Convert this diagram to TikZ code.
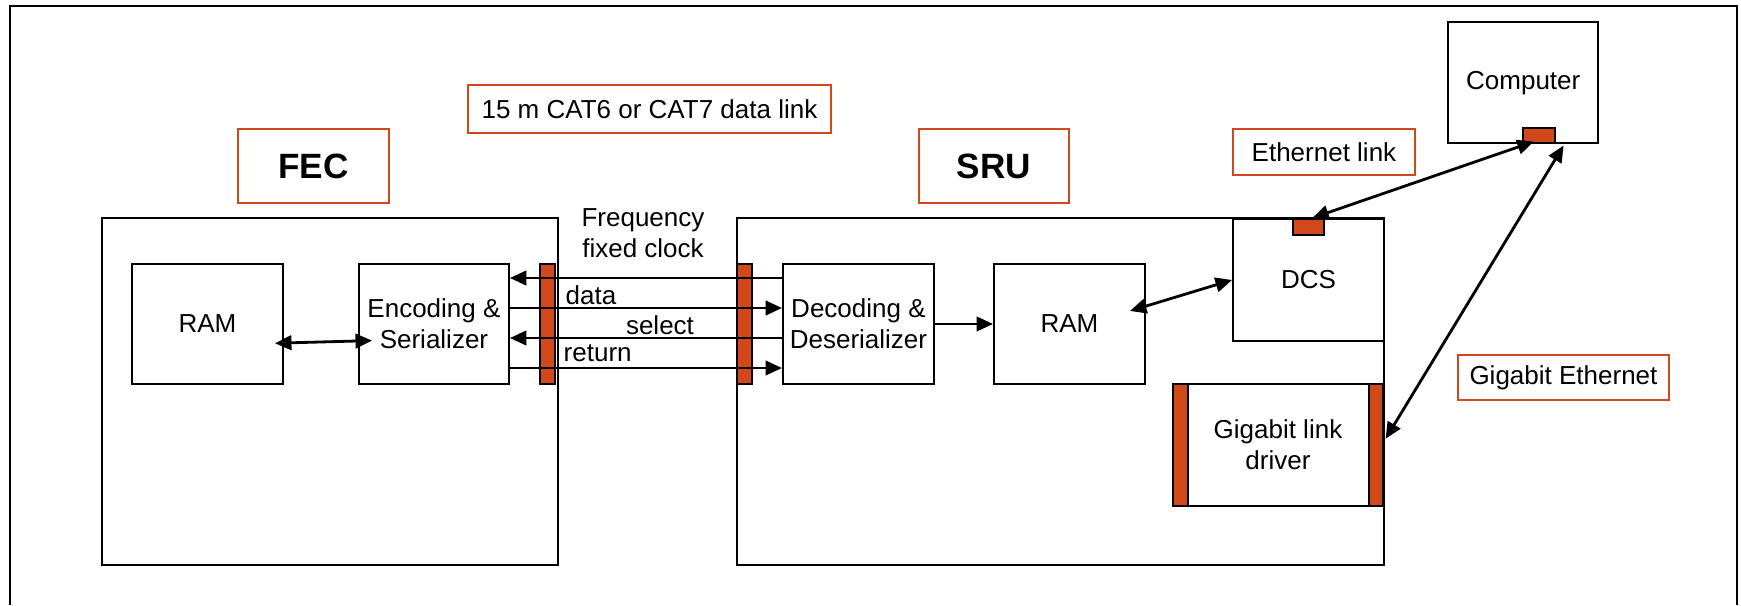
\documentclass[tikz,border=0pt]{standalone}
\usepackage{fontspec}
\setmainfont{Liberation Sans}
\usetikzlibrary{arrows.meta,calc}
\definecolor{rust}{RGB}{209,73,26}
\begin{document}
\begin{tikzpicture}[x=0.1mm,y=-0.1mm,
  >={Triangle[length=1.65mm,width=1.45mm]},
  txt/.style={font=\fontsize{7.4}{8.8}\selectfont},
  wh/.style 2 args={minimum width=#1*0.1mm, minimum height=#2*0.1mm},
  box/.style={draw, line width=0.55pt, inner sep=0pt, align=center, anchor=north west, txt},
  tag/.style={draw=rust, line width=0.55pt, inner sep=0pt, align=center, anchor=north west, txt},
  title/.style={tag, font=\fontsize{10}{12}\selectfont\bfseries},
  port/.style={draw, fill=rust, line width=0.45pt, inner sep=0pt, anchor=north west},
  lbl/.style={inner sep=0pt, align=center, txt},
  link/.style={line width=0.8pt, ->},
  dlink/.style={line width=0.8pt, <->},
]
\useasboundingbox (0,0) rectangle (1741,605);

% outer frame (open at the bottom)
\draw[line width=0.7pt] (10,605) -- (10,6) -- (1737,6) -- (1737,605);

% crates
\node[box, wh={456}{347}] (fec) at (101,217) {};
\node[box, wh={647}{347}] (sru) at (736,217) {};
\node[title, wh={151}{74}] (feclbl) at (237,128) {FEC};
\node[title, wh={150}{74}] (srulbl) at (918,128) {SRU};
\node[tag, wh={363}{48}] (cat) at (467,84) {15 m CAT6 or CAT7 data link};

% FEC side
\node[box, wh={151}{120}] (ramf) at (131,263) {RAM};
\node[box, wh={150}{120}] (enc) at (358,263) {Encoding \&\\Serializer};
\node[port, wh={15}{120}] (barl) at (539,263) {};

% SRU side
\node[port, wh={15}{120}] (barr) at (736,263) {};
\node[box, wh={151}{120}] (dec) at (782,263) {Decoding \&\\Deserializer};
\node[box, wh={151}{120}] (rams) at (993,263) {RAM};
\node[box, wh={151}{122}] (dcs) at (1232,218) {DCS};
\node[port, wh={31}{16}] (dcsport) at (1292,218) {};
\node[box, wh={210}{122}] (gld) at (1172,383) {Gigabit link\\driver};
\node[port, wh={15}{122}] (gldl) at (1172,383) {};
\node[port, wh={14}{122}] (gldr) at (1368,383) {};

% computer
\node[box, line width=0.7pt, wh={150}{121}] (comp) at (1447,21) {Computer};
\node[port, wh={32}{15}] (compport) at (1522,127) {};
\node[tag, wh={182}{46}] (eth) at (1232,128) {Ethernet link};
\node[tag, wh={211}{45}] (gige) at (1457,354) {Gigabit Ethernet};

% cable signal names
\node[lbl] (clk) at (643,233) {Frequency\\fixed clock};
\node[lbl, anchor=west] (data) at (565,295) {data};
\node[lbl] (sel) at (660,325) {select};
\node[lbl, anchor=west] (ret) at (563,353) {return};

% cable lines
\coordinate (r1) at (0,278);
\coordinate (r2) at (0,308);
\coordinate (r3) at (0,338);
\coordinate (r4) at (0,368);
\draw[link] (dec.west |- r1) -- (enc.east |- r1);
\draw[link] (enc.east |- r2) -- (dec.west |- r2);
\draw[link] (dec.west |- r3) -- (enc.east |- r3);
\draw[link] (enc.east |- r4) -- (dec.west |- r4);

% internal links
\draw[dlink, shorten <=-0.9mm, shorten >=-1.4mm] ($(ramf.east)+(0,19)$) -- ($(enc.west)+(0,17)$);
\draw[link] (dec.east) -- (rams.west);
\draw[dlink] ($(rams.east)+(-16,-13)$) -- (dcs.west);

% network links
\draw[dlink] ($(dcsport.north)+(4,0)$) -- ($(compport.south)+(-5,-2)$);
\draw[dlink] ($(compport.south east)+(8,2)$) -- ($(gldr.east)+(2,-6)$);
\end{tikzpicture}
\end{document}
